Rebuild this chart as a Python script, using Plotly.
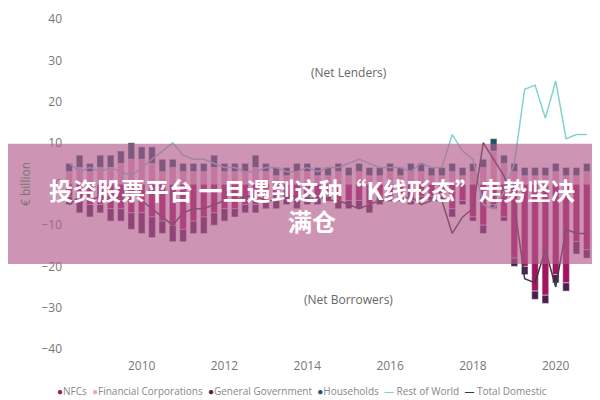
import plotly.graph_objects as go

quarters = [2008.25 + 0.25 * i for i in range(51)]
nfc = [-3,-4,-5,-5,-6,-6,-7,-7,-8,-9,-10,-11,-9,-8,-7,-6,-6,-5,-5,-4,-4,-3,-4,-3,-3,-3,-4,-4,-4,-5,-3,-3,-3,-4,-3,-3,-3,-6,-4,-8,-10,-5,-8,-18,-20,-26,-27,-22,-24,-14,-16]
fc = [3,4,3,4,4,5,6,6,5,3,4,3,3,3,4,3,3,3,4,3,2,2,3,3,2,2,3,2,3,2,2,3,2,3,3,2,2,3,2,3,4,8,5,3,2,2,2,3,2,2,3]
gg = [-2,-3,-3,-2,-3,-3,-4,-5,-5,-3,-4,-3,-3,-4,-3,-3,-2,-2,-2,-2,-2,-2,-2,-2,-2,-1,-2,-2,-2,-2,-2,-1,-1,-1,-1,-1,-1,-2,-1,-1,-2,-1,-1,-2,-2,-2,-2,-2,-2,-3,-2]
hh = [2,3,2,3,3,3,4,3,4,3,2,2,2,2,3,2,2,2,3,2,2,2,2,2,2,2,2,2,2,2,2,2,2,2,2,2,2,2,2,2,2,3,2,2,2,2,2,2,2,2,2]
row = [5,3,4,3,4,3,2,4,6,8,10,7,6,6,5,4,4,3,3,4,4,3,3,4,3,4,4,5,6,5,4,4,4,3,5,4,4,12,8,6,-5,-6,-2,5,23,24,16,25,11,12,12]
total = [-5,-3,-4,-3,-4,-3,-2,-4,-6,-8,-10,-7,-6,-6,-5,-4,-4,-3,-3,-4,-4,-3,-3,-4,-3,-4,-4,-5,-6,-5,-4,-4,-4,-3,-5,-4,-4,-12,-8,-6,10,6,2,-5,-23,-24,-16,-25,-11,-12,-12]

C = dict(nfc="#a3145f", fc="#e6a9c3", gg="#4b1e4f", hh="#1f5466", row="#7fd3cf", tot="#3a3a3a")
fig = go.Figure()
for name, vals, col in [("NFCs", nfc, C["nfc"]), ("Financial Corporations", fc, C["fc"]),
                        ("General Government", gg, C["gg"]), ("Households", hh, C["hh"])]:
    fig.add_bar(x=quarters, y=vals, name=name, marker_color=col, width=0.16, showlegend=False)
fig.add_scatter(x=quarters, y=row, name="Rest of World", mode="lines", line=dict(color=C["row"], width=1.5), showlegend=False)
fig.add_scatter(x=quarters, y=total, name="Total Domestic", mode="lines", line=dict(color=C["tot"], width=1.5), showlegend=False)

legend_txt = (f"<span style='color:{C['nfc']}'>●</span>NFCs  <span style='color:{C['fc']}'>●</span>Financial Corporations  "
              f"<span style='color:{C['gg']}'>●</span>General Government  <span style='color:{C['hh']}'>●</span>Households  "
              f"<span style='color:{C['row']}'>—</span> Rest of World  <span style='color:{C['tot']}'>—</span> Total Domestic")

fig.update_layout(
    barmode="relative", width=600, height=400, plot_bgcolor="white", paper_bgcolor="white",
    margin=dict(l=55, r=15, t=3, b=51), font=dict(family="Open Sans", color="#777", size=12),
    xaxis=dict(range=[2008.1, 2020.9], tickvals=[2010, 2012, 2014, 2016, 2018, 2020], showgrid=False, zeroline=False),
    yaxis=dict(range=[-42, 42], tickvals=[-40, -30, -20, -10, 0, 10, 20, 30, 40], showgrid=False, zeroline=False,
               title=dict(text="€ billion", font=dict(size=12), standoff=8)),
    shapes=[dict(type="rect", xref="paper", yref="paper", x0=-0.12, x1=1.05, y0=0.269, y1=0.616,
                 fillcolor="rgba(180,90,140,0.65)", line_width=0, layer="above")],
    annotations=[
        dict(text="(Net Lenders)", x=2015, y=27, showarrow=False, font=dict(size=12, color="#666")),
        dict(text="(Net Borrowers)", x=2015, y=-28, showarrow=False, font=dict(size=12, color="#666")),
        dict(text=legend_txt, xref="paper", yref="paper", x=0.45, y=-0.072, yanchor="top", showarrow=False,
             font=dict(size=10, color="#888")),
        dict(text="<b>投资股票平台 一旦遇到这种“K线形态”走势坚决<br>满仓</b>", xref="paper", yref="paper",
             x=0.47, y=0.44, showarrow=False, font=dict(size=24, color="white", family="Noto Sans CJK SC")),
    ],
)
fig.write_html("out.html")
